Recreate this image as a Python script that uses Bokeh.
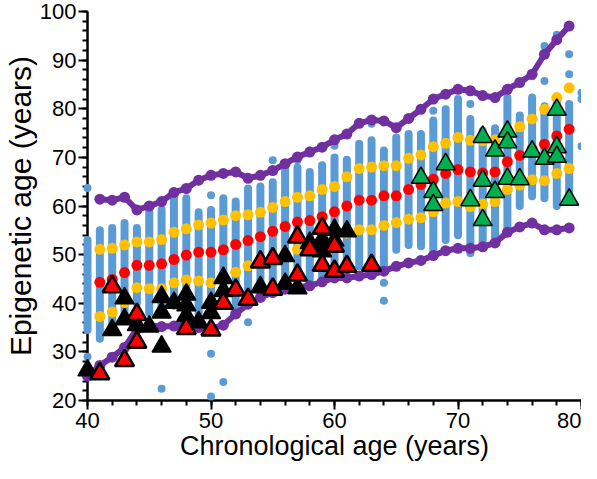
from bokeh.plotting import figure
from bokeh.models import SingleIntervalTicker, Range1d
from bokeh.embed import file_html
from bokeh.resources import INLINE

# ---------------- data ----------------
line_ages = list(range(41, 80))
purple_upper = [61.4, 61.2, 61.8, 59.2, 60.0, 60.9, 62.8, 63.6, 65.3, 66.3,
                66.7, 67.0, 65.7, 66.3, 67.3, 68.7, 70.1, 71.1, 72.1, 73.6,
                74.8, 77.0, 77.7, 77.5, 76.1, 78.0, 79.9, 82.0, 83.0, 84.0,
                83.7, 82.7, 82.3, 84.0, 85.4, 87.1, 91.2, 94.2, 97.0]
lower_ages = list(range(40, 80))
purple_lower = [25.0, 27.2, 28.9, 30.9, 34.7, 35.5, 35.2, 35.3, 35.7, 35.0,
                34.8, 35.5, 37.8, 39.8, 41.2, 42.2, 42.9, 43.3, 43.6, 44.4,
                45.2, 45.2, 45.6, 45.9, 46.6, 47.6, 48.3, 48.8, 49.8, 50.8,
                51.3, 51.3, 51.6, 52.4, 54.6, 55.7, 56.5, 55.1, 55.1, 55.5]
yellow_upper = [51.1, 51.3, 52.0, 52.6, 52.6, 53.1, 54.6, 55.3, 56.1, 56.5,
                57.1, 58.0, 58.2, 58.7, 59.7, 60.9, 61.8, 62.1, 63.4, 64.0,
                66.0, 67.7, 68.0, 68.3, 68.3, 69.8, 70.5, 72.2, 72.9, 74.1,
                73.5, 73.4, 73.6, 74.8, 76.3, 77.9, 79.9, 82.3, 84.3]
yellow_lower = [37.3, 38.2, 40.2, 43.2, 43.0, 43.0, 44.2, 44.8, 44.6, 44.2,
                45.3, 46.4, 47.7, 48.5, 49.5, 50.3, 51.1, 51.8, 52.4, 53.2,
                54.4, 55.1, 55.1, 56.0, 56.6, 57.3, 57.6, 58.8, 60.6, 60.9,
                59.9, 60.4, 60.9, 63.4, 64.3, 65.4, 65.2, 66.7, 67.7]
red_mean = [44.3, 44.9, 46.3, 47.8, 47.8, 48.1, 49.0, 49.9, 50.5, 50.5,
            51.0, 52.1, 52.9, 53.7, 54.8, 55.8, 56.7, 57.0, 57.8, 58.8,
            60.0, 61.2, 61.2, 62.1, 62.1, 63.4, 64.4, 65.5, 66.7, 67.5,
            67.0, 66.8, 67.0, 69.1, 70.4, 71.7, 72.7, 74.4, 75.8]

# dense columns of blue points (age, lowest, highest)
col_ages = list(range(40, 80))
col_lo = [34.5, 32.7, 36.0, 37.0, 40.0, 38.0, 38.4, 39.5, 39.5, 38.0,
          39.5, 40.2, 38.5, 42.0, 44.5, 44.0, 45.5, 45.5, 45.0, 45.5,
          46.0, 47.0, 47.6, 49.0, 47.0, 51.0, 52.0, 51.7, 51.0, 53.0,
          54.0, 50.3, 51.4, 53.5, 55.5, 60.0, 62.0, 61.6, 60.0, 62.0]
col_hi = [53.0, 55.0, 55.5, 56.5, 55.5, 58.9, 59.3, 61.8, 61.6, 58.7,
          59.2, 61.6, 60.9, 63.6, 64.0, 64.9, 68.6, 67.9, 67.0, 68.4,
          70.0, 69.5, 72.8, 73.5, 71.4, 74.1, 74.8, 74.8, 77.6, 79.9,
          82.0, 77.9, 75.5, 76.0, 82.3, 78.6, 82.3, 80.5, 82.0, 81.0]
# isolated blue points
blue_x = [40, 40, 44, 46, 48, 50, 50, 50, 51, 53, 53, 55, 57, 58, 60,
          63, 64, 64, 68, 71, 76, 77, 77, 78, 79, 79, 80, 80, 80]
blue_y = [63.7, 29.0, 59.3, 22.4, 63.5, 62.2, 29.6, 20.8, 23.8, 65.7, 36.1,
          69.4, 69.4, 71.4, 72.4, 76.9, 44.2, 40.5, 79.6, 81.0, 86.7, 85.7,
          92.9, 95.2, 91.2, 87.1, 83.3, 82.0, 72.3]

black_x = [40, 42, 43, 43, 44, 45, 46, 46, 46, 47, 48, 48, 48, 49, 50, 50,
           51, 51, 54, 56, 56, 57, 58, 59, 59, 60, 61, 60]
black_y = [26.2, 34.5, 41.0, 36.7, 35.5, 35.2, 31.1, 41.3, 38.1, 40.1, 41.8,
           39.6, 37.4, 36.1, 40.1, 38.0, 45.2, 42.5, 43.3, 44.0, 49.7, 43.1,
           52.4, 53.1, 50.7, 55.1, 54.8, 52.9]
redtri_x = [41, 42, 43, 44, 44, 48, 50, 51, 52, 53, 54, 55, 55, 57, 57, 58,
            59, 59, 60, 60, 61, 63]
redtri_y = [25.5, 43.4, 28.2, 37.7, 32.0, 34.8, 34.5, 40.0, 42.7, 40.8, 48.5,
            49.2, 42.9, 53.6, 45.8, 51.0, 55.4, 47.8, 51.7, 46.6, 47.6, 47.8]
green_x = [67, 68, 68, 69, 71, 72, 72, 72, 73, 73, 74, 74, 74, 75, 76, 77,
           78, 78, 78, 79]
green_y = [65.8, 62.9, 60.2, 68.6, 61.2, 74.2, 65.2, 57.1, 71.4, 62.9, 75.3,
           73.1, 65.6, 65.5, 71.2, 69.7, 79.8, 72.1, 70.1, 61.3]

# ---------------- figure ----------------
BLUE = "#5B9BD5"
PURPLE = "#7030A0"
YELLOW = "#FFC000"
RED = "#FF0000"
GREEN = "#00B050"
FONT = "Liberation Sans"

p = figure(width=581, height=463, x_range=Range1d(40, 80), y_range=Range1d(20, 100),
           output_backend="svg", toolbar_location=None,
           min_border_left=78, min_border_right=0, min_border_top=11, min_border_bottom=60)
p.xgrid.visible = False
p.ygrid.visible = False
p.outline_line_color = None
p.background_fill_color = "white"

p.xaxis.ticker = SingleIntervalTicker(interval=10, num_minor_ticks=5)
p.yaxis.ticker = SingleIntervalTicker(interval=10, num_minor_ticks=5)
for ax in (p.xaxis[0], p.yaxis[0]):
    ax.axis_line_width = 2.5
    ax.axis_line_color = "black"
    ax.major_tick_line_width = 2
    ax.minor_tick_line_width = 2
    ax.major_tick_line_color = "black"
    ax.minor_tick_line_color = "black"
    ax.major_tick_in = 0
    ax.major_tick_out = 9
    ax.minor_tick_in = 0
    ax.minor_tick_out = 5
    ax.major_label_text_font = FONT
    ax.major_label_text_font_size = "22px"
    ax.major_label_text_color = "black"
    ax.axis_label_text_font = FONT
    ax.axis_label_text_font_style = "normal"
    ax.axis_label_text_color = "black"
p.xaxis.axis_label = "Chronological age (years)"
p.yaxis.axis_label = "Epigenetic age (years)"
p.xaxis.axis_label_text_font_size = "27px"
p.yaxis.axis_label_text_font_size = "30px"
p.xaxis.major_label_standoff = 3
p.yaxis.major_label_standoff = 2
p.xaxis.axis_label_standoff = 0
p.yaxis.axis_label_standoff = 0

renderers = []
# blue clouds
renderers.append(p.segment(x0=col_ages, y0=col_lo, x1=col_ages, y1=col_hi, line_width=8,
                           line_cap="round", line_color=BLUE))
renderers.append(p.scatter(blue_x, blue_y, size=8, fill_color=BLUE, line_color=None))

# purple bounds
renderers.append(p.line(line_ages, purple_upper, line_width=6, line_color=PURPLE))
renderers.append(p.scatter(line_ages, purple_upper, size=11, fill_color=PURPLE, line_color=None))
renderers.append(p.line(lower_ages, purple_lower, line_width=6, line_color=PURPLE))
renderers.append(p.scatter(lower_ages, purple_lower, size=11, fill_color=PURPLE, line_color=None))

# yellow + red
renderers.append(p.scatter(line_ages, yellow_upper, size=11, fill_color=YELLOW, line_color=None))
renderers.append(p.scatter(line_ages, yellow_lower, size=11, fill_color=YELLOW, line_color=None))
renderers.append(p.scatter(line_ages, red_mean, size=11, fill_color=RED, line_color=None))

# triangles
renderers.append(p.scatter(black_x, black_y, marker="triangle", size=19, fill_color="black",
                           line_color="black", line_width=1.5))
renderers.append(p.scatter(redtri_x, redtri_y, marker="triangle", size=19, fill_color=RED,
                           line_color="black", line_width=2.5))
renderers.append(p.scatter(green_x, green_y, marker="triangle", size=19, fill_color=GREEN,
                           line_color="black", line_width=1.5))
for r in renderers:
    r.level = "overlay"

open("out.html", "w").write(file_html(p, INLINE))
